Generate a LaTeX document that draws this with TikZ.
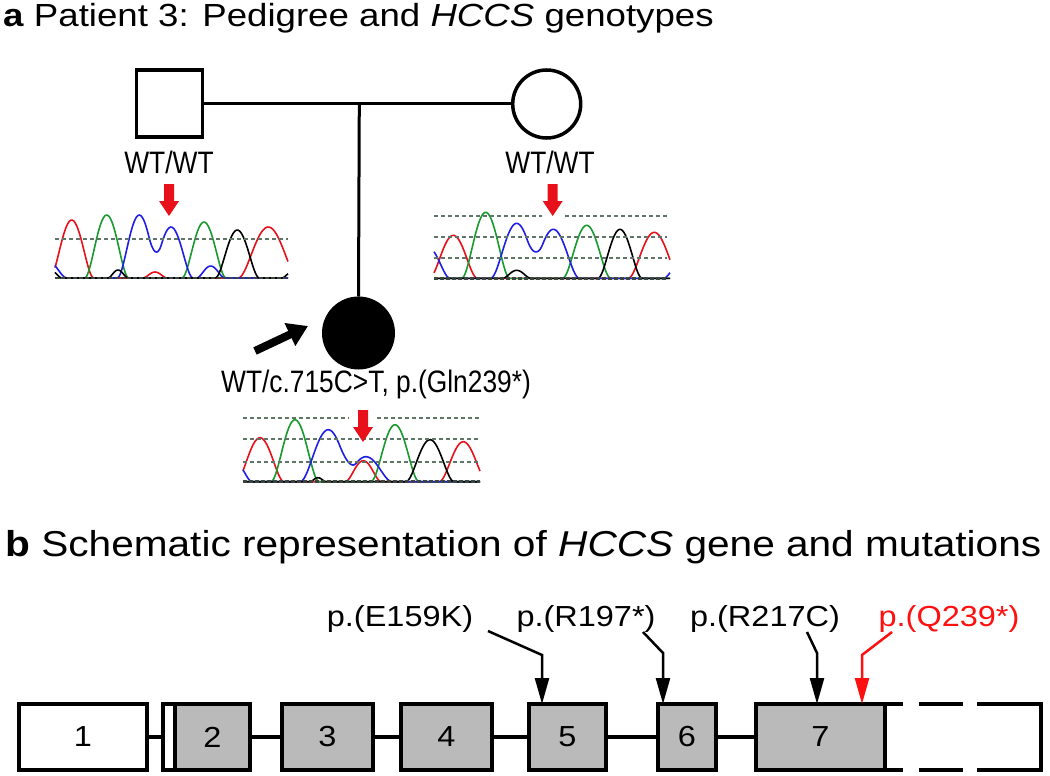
\documentclass[tikz,border=0pt]{standalone}
\usepackage{fontspec}
\setmainfont{Liberation Sans}
\usepackage{graphicx}
\usetikzlibrary{arrows.meta,calc}
\definecolor{exgray}{HTML}{BABABA}
\definecolor{dashc}{HTML}{5F7568}
\definecolor{dashk}{HTML}{3A4540}
\definecolor{tred}{HTML}{E8101A}
\definecolor{tgreen}{HTML}{189A2E}
\definecolor{tblue}{HTML}{1E1EE6}
\definecolor{mutred}{HTML}{FF1010}
\newcommand{\hx}[2]{\scalebox{#1}[1]{#2}}
\tikzset{
  ped/.style={line width=3pt},
  sqr/.style={draw, line width=3.5pt, fill=white, minimum width=66pt, minimum height=67pt, inner sep=0},
  circ/.style={draw, circle, line width=3.5pt, fill=white, minimum size=68pt, inner sep=0},
  affc/.style={draw, circle, line width=3pt, fill=black, minimum size=70pt, inner sep=0},
  wtl/.style={inner sep=0, font=\fontsize{31}{36}\selectfont},
  trace/.style={line width=1.6pt, line join=round},
  dashl/.style={dashc, line width=2pt, dash pattern=on 4pt off 3pt},
  dashb/.style={dashk, line width=2.6pt, dash pattern=on 4pt off 2pt},
  redmark/.pic={\fill[tred] (-5,0) -- (5,0) -- (5,17) -- (10,17) -- (0,32) -- (-10,17) -- (-5,17) -- cycle;},
  exon/.style={draw, line width=4pt, fill=exgray, inner sep=0, outer sep=0, minimum height=66pt, font=\fontsize{29}{34}\selectfont},
  utr/.style={exon, fill=white},
  intron/.style={line width=3.5pt},
  mlbl/.style={inner sep=0, font=\fontsize{29}{34}\selectfont},
  mut/.style={line width=2.5pt, -{Triangle[length=26pt,width=14pt]}},
}
\begin{document}
\begin{tikzpicture}[x=1pt,y=-1pt,
  declare function={bump(\pz)=max(0,1-\pz*\pz)*max(0,1-\pz*\pz); pk(\px,\pc,\ph,\pw)=\ph*bump((\px-\pc)/\pw);}]
\useasboundingbox (0,0) rectangle (1050,776);

% ---------- titles ----------
\node[anchor=base west, inner sep=0, font=\fontsize{32}{38}\selectfont] (ta) at (3,27)
  {\hx{1.145}{\textbf{a} Patient 3: Pedigree and \textit{HCCS} genotypes}};
\node[anchor=base west, inner sep=0, font=\fontsize{36}{42}\selectfont] (tb) at (5,556)
  {\hx{1.128}{\textbf{b} Schematic representation of \textit{HCCS} gene and mutations}};

% ---------- pedigree ----------
\node[sqr] (father) at (169.5,103.7) {};
\node[circ] (mother) at (546.7,104) {};
\node[affc] (child) at (358.5,333) {};
\coordinate (sib) at (359.3,103.7);
\draw[ped] (father.east) -- (father.east -| mother.west);
\draw[ped] (sib) -- (child.north);
\coordinate (pbt) at (255,351);
\coordinate (pbh) at (308,326);
\draw[line width=8pt, -{Triangle[length=20pt,width=24pt]}] (pbt) -- (pbh);

\node[wtl, anchor=base] (gf) at (169,173) {\hx{0.85}{WT/WT}};
\node[wtl, anchor=base] (gm) at (550,173) {\hx{0.85}{WT/WT}};
\node[wtl, anchor=base] (gc) at (376,392) {\hx{0.85}{WT/c.715C>T, p.(Gln239*)}};

% ---------- chromatogram left ----------
\draw[tred,trace] plot[domain=55:288, samples=150, smooth] (\x,{278-pk(\x,71.7,58,22)-pk(\x,268.3,51,30)-pk(\x,155,6,12)});
\draw[tgreen,trace] plot[domain=55:288, samples=150, smooth] (\x,{278-pk(\x,106.7,63,22)-pk(\x,204,56,22)});
\draw[tblue,trace] plot[domain=55:288, samples=150, smooth] (\x,{278-pk(\x,45,20,22)-pk(\x,139.3,63,22)-pk(\x,171,51,22)-pk(\x,210.7,12,14)});
\draw[black,trace] plot[domain=55:288, samples=150, smooth] (\x,{278-pk(\x,48,10,14)-pk(\x,118,8,10)-pk(\x,237.3,48,22)-pk(\x,292,6,10)});
\draw[dashl] (55,239.3) -- (288,239.3);
\draw[dashb] (55,278) -- (288,278);
\pic at (169,184) {redmark};

% ---------- chromatogram right ----------
\draw[tred,trace] plot[domain=434:670, samples=150, smooth] (\x,{278.3-pk(\x,453.3,43,24)-pk(\x,654.3,46,26)});
\draw[tgreen,trace] plot[domain=434:670, samples=150, smooth] (\x,{278.3-pk(\x,485.7,66,24)-pk(\x,586.7,53,24)});
\draw[tblue,trace] plot[domain=434:670, samples=150, smooth] (\x,{278.3-pk(\x,428,31,22)-pk(\x,516.7,55,26)-pk(\x,553.3,49,26)-pk(\x,676,10,12)});
\draw[black,trace] plot[domain=434:670, samples=150, smooth] (\x,{278.3-pk(\x,516.7,8,14)-pk(\x,620,49,22)});
\draw[dashl] (434,216) -- (541.7,216) (565,216) -- (667,216);
\draw[dashl] (434,236.7) -- (667,236.7);
\draw[dashl] (434,257.7) -- (667,257.7);
\draw[dashb] (434,278.3) -- (667,278.3);
\pic at (552.7,184) {redmark};

% ---------- chromatogram child ----------
\draw[tred,trace] plot[domain=243:480, samples=150, smooth] (\x,{481.7-pk(\x,260,44,24)-pk(\x,363.3,21,18)-pk(\x,463.3,40,24)});
\draw[tgreen,trace] plot[domain=243:480, samples=150, smooth] (\x,{481.7-pk(\x,295,62,24)-pk(\x,395,57,24)});
\draw[tblue,trace] plot[domain=243:480, samples=150, smooth] (\x,{481.7-pk(\x,236,18,16)-pk(\x,328.3,52,28)-pk(\x,366,25,26)});
\draw[black,trace] plot[domain=243:480, samples=150, smooth] (\x,{481.7-pk(\x,318,4,8)-pk(\x,430,42,24)});
\draw[dashl] (242.7,418.3) -- (348,418.3) (377,418.3) -- (480,418.3);
\draw[dashl] (242.7,439.3) -- (480,439.3);
\draw[dashl] (242.7,461.7) -- (480,461.7);
\draw[dashb] (242.7,481.7) -- (480,481.7);
\pic at (363,410) {redmark};

% ---------- gene ----------
\node[utr, minimum width=128pt] (e1) at (83,737) {\hx{1.12}{1}};
\node[utr, minimum width=12pt] (e1b) at (169,737) {};
\node[exon, minimum width=75pt] (e2) at (212.5,737) {\hx{1.12}{2}};
\node[exon, minimum width=91pt] (e3) at (327.5,737) {\hx{1.12}{3}};
\node[exon, minimum width=91pt] (e4) at (446.5,737) {\hx{1.12}{4}};
\node[exon, minimum width=77pt] (e5) at (567.5,737) {\hx{1.12}{5}};
\node[exon, minimum width=58pt] (e6) at (687,737) {\hx{1.12}{6}};
\node[exon, minimum width=129pt] (e7) at (820.5,737) {\hx{1.12}{7}};
\draw[intron] (e1.east) -- (e1b.west);
\draw[intron] (e2.east) -- (e3.west);
\draw[intron] (e3.east) -- (e4.west);
\draw[intron] (e4.east) -- (e5.west);
\draw[intron] (e5.east) -- (e6.west);
\draw[intron] (e6.east) -- (e7.west);
\draw[line width=4pt] (e7.north east) -- (903,704) (919,704) -- (963,704)
  (977,704) -- (1041,704) -- (1041,770) -- (977,770) (963,770) -- (919,770) (903,770) -- (e7.south east);

\node[mlbl, anchor=base] (m1) at (400,626) {\hx{1.12}{p.(E159K)}};
\node[mlbl, anchor=base] (m2) at (586,626) {\hx{1.12}{p.(R197*)}};
\node[mlbl, anchor=base] (m3) at (765,626) {\hx{1.12}{p.(R217C)}};
\node[mlbl, anchor=base, text=mutred] (m4) at (949,626) {\hx{1.12}{p.(Q239*)}};

\coordinate (a1s) at (488,631); \coordinate (a1b) at (542,655);
\coordinate (a2s) at (643,632); \coordinate (a2b) at (663,653);
\coordinate (a3s) at (807,632); \coordinate (a3b) at (817,653);
\coordinate (a4s) at (892,632); \coordinate (a4b) at (862,655);
\draw[mut] (a1s) -- (a1b) -- (a1b |- e5.north);
\draw[mut] (a2s) -- (a2b) -- (a2b |- e6.north);
\draw[mut] (a3s) -- (a3b) -- (a3b |- e7.north);
\draw[mut, mutred] (a4s) -- (a4b) -- (a4b |- e7.north);
\end{tikzpicture}
\end{document}
